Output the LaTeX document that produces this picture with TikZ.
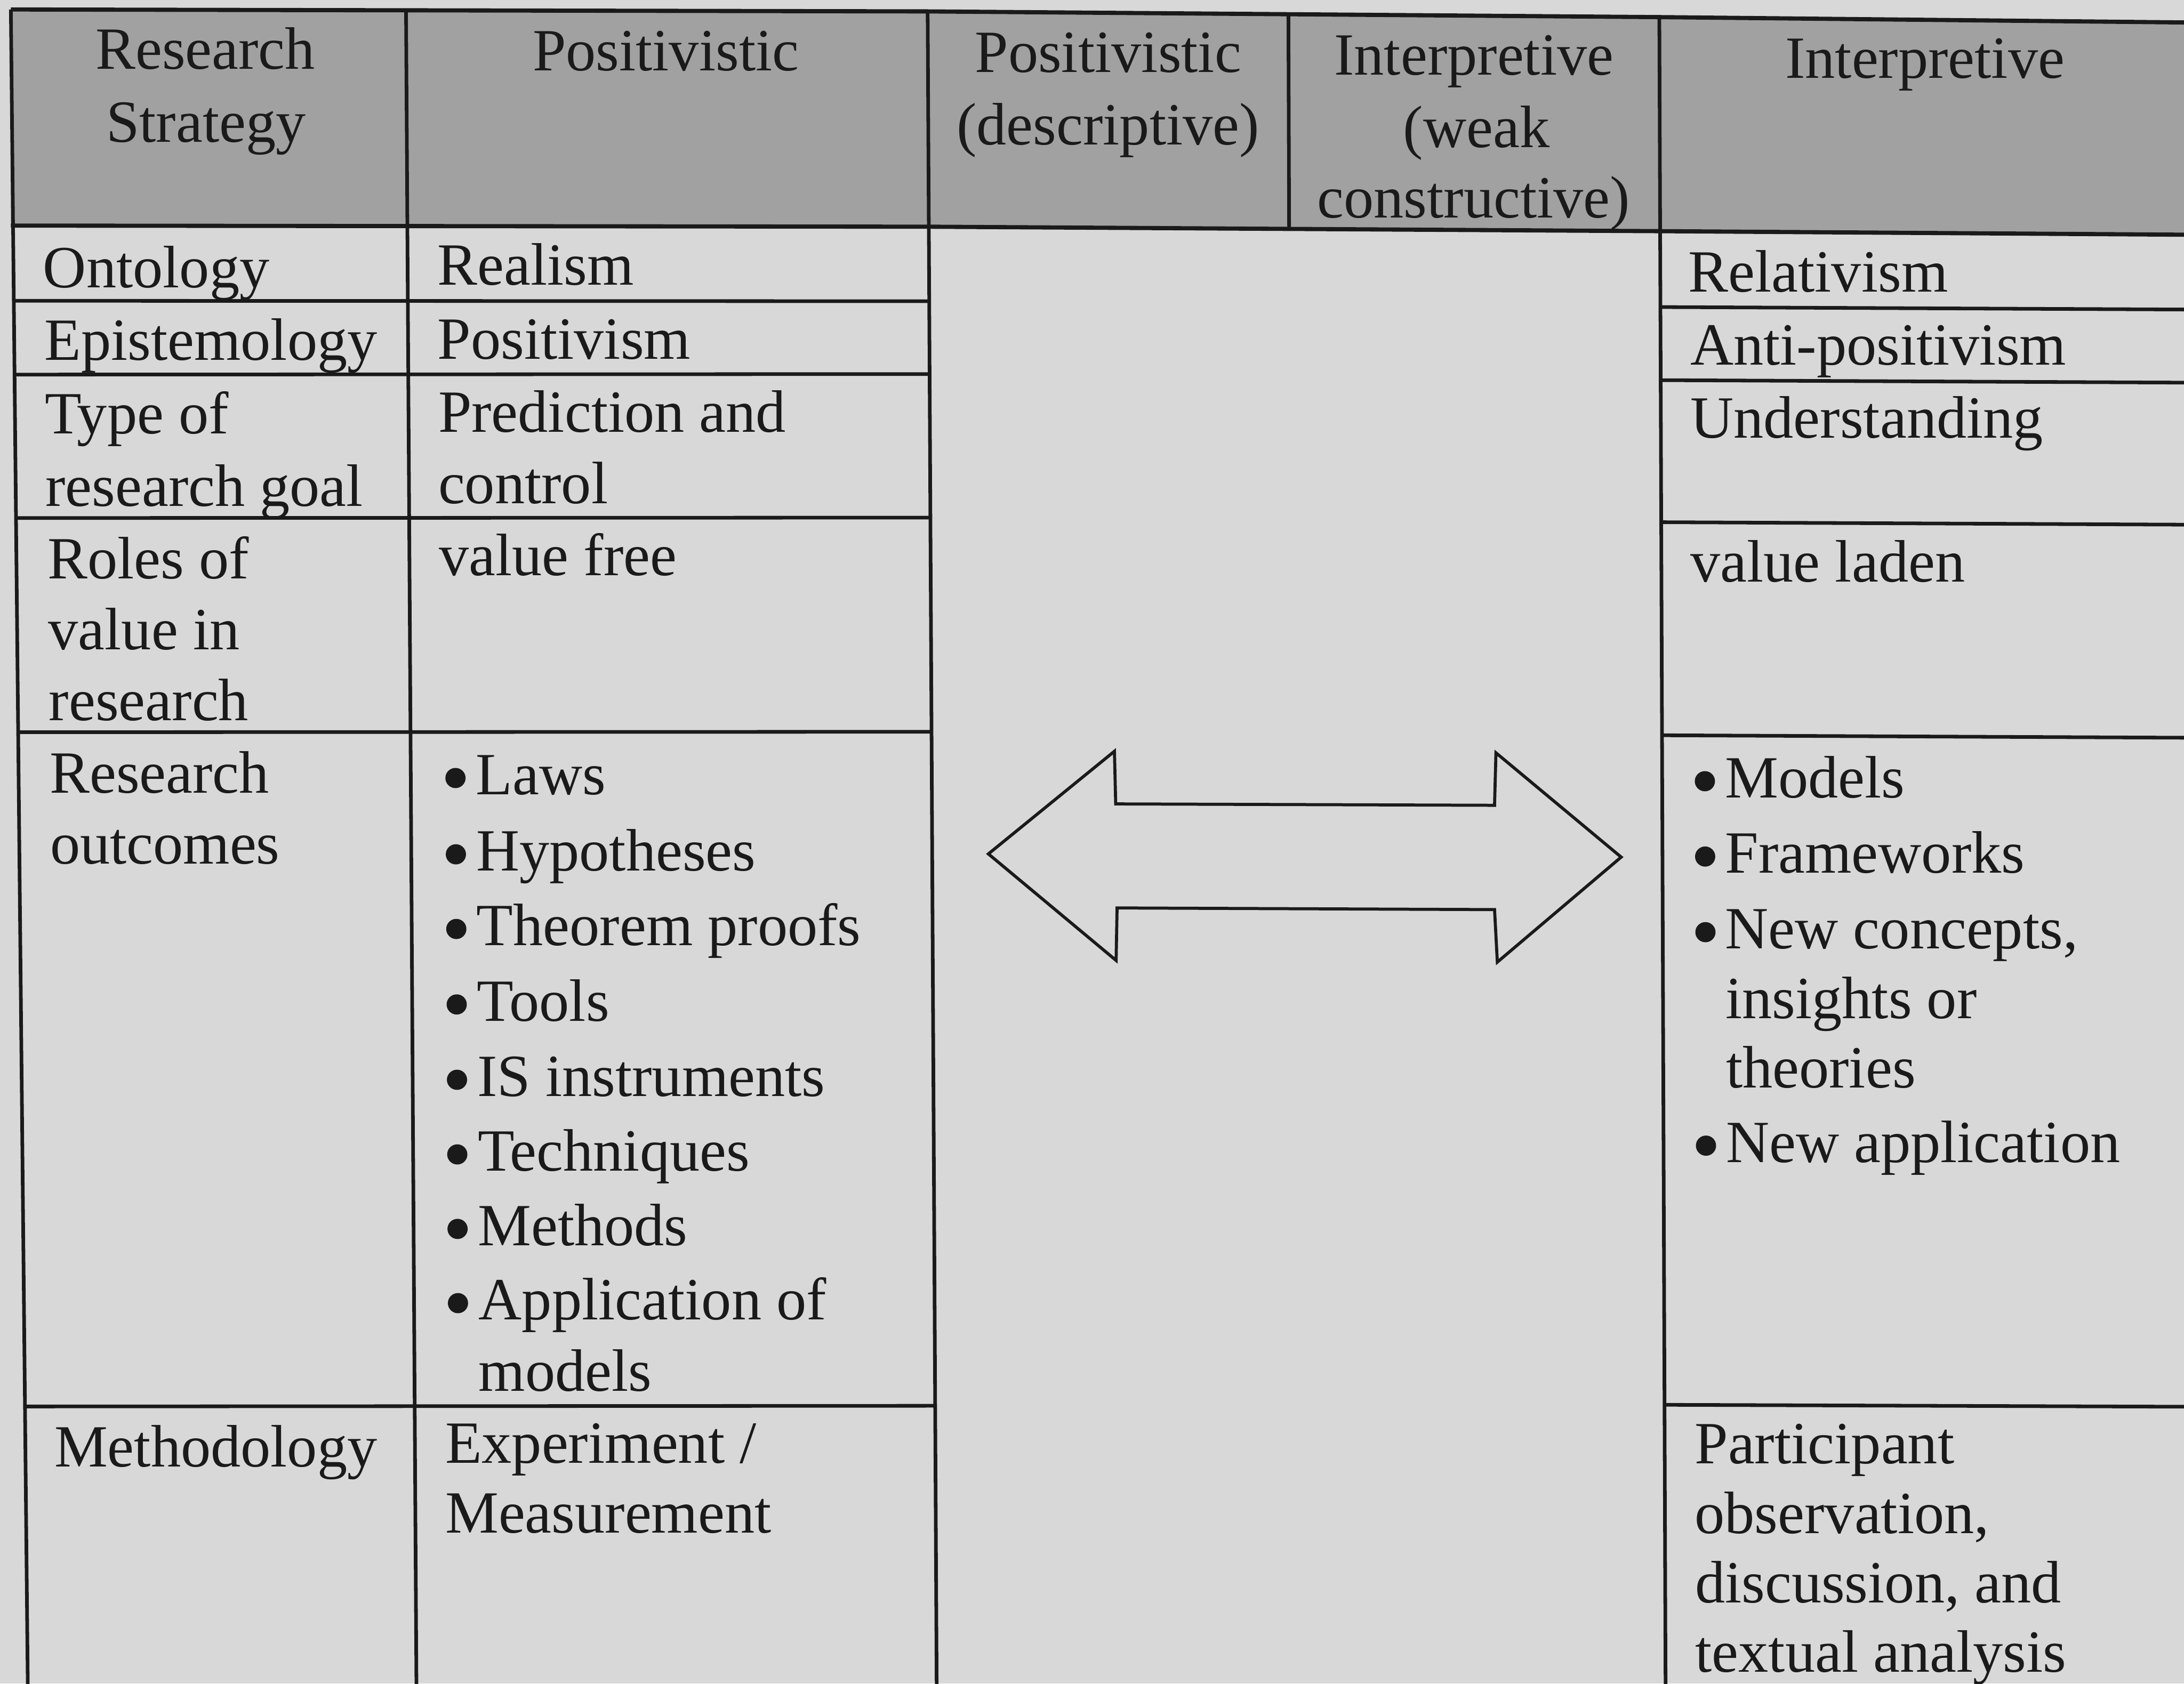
\documentclass[tikz,border=0pt]{standalone}
\usepackage{fontspec}
\setmainfont{Liberation Serif}
\definecolor{paper}{HTML}{D8D8D8}
\definecolor{headgrey}{HTML}{A1A1A1}
\definecolor{ink}{HTML}{1A1A1A}

\begin{document}
\begin{tikzpicture}[x=1pt,y=-1pt,
  rule/.style={draw=ink, line width=2.6pt},
  headrule/.style={draw=ink, line width=3pt},
  txt/.style={anchor=base west, inner sep=0pt, text=ink, font=\fontsize{43}{51}\selectfont},
  head/.style={anchor=base, inner sep=0pt, text=ink, font=\fontsize{43}{51}\selectfont},
  dot/.style={circle, fill=ink, inner sep=0pt, minimum size=14.5pt, yshift=1.5pt},
  twoway/.style={draw=ink, line width=2.2pt, fill=paper, line join=miter}
]
\useasboundingbox (0,0) rectangle (1568,1209);
\clip (0,0) rectangle (1568,1209);
\fill[paper] (0,0) rectangle (1568,1209);

% header band
\fill[headgrey] (7.8,6.8) -- (666,8.2) -- (1191,12.3) -- (1575,16.2)
  -- (1575,168.6) -- (1191,166) -- (666,162.8) -- (7.8,162) -- cycle;

% outer and header rules
\draw[headrule] (7.8,6.8) -- (666,8.2) -- (1191,12.3) -- (1575,16.2);
\draw[headrule] (7.8,162) -- (666,162.8) -- (1191,166) -- (1575,168.6);

% column rules
\draw[rule] (7.8,6.8) -- (20,1215);
\draw[rule] (291.5,7.5) -- (299,1215);
\draw[rule] (666,8.2) -- (672.5,1215);
\draw[rule] (925,10.3) -- (925.5,164.5);
\draw[rule] (1191.3,12.3) -- (1195.8,1215);

% row rules, left block
\draw[rule] (9.9,216) -- (667.1,216.3);
\draw[rule] (10.5,269) -- (667.4,268.6);
\draw[rule] (11.5,372) -- (668,371.7);
\draw[rule] (13.1,525.8) -- (668.8,525.5);
\draw[rule] (18,1010) -- (671.4,1009.5);

% row rules, right block
\draw[rule] (1192.1,220.5) -- (1575,222.3);
\draw[rule] (1192.3,273) -- (1575,274.8);
\draw[rule] (1192.6,375) -- (1575,376.8);
\draw[rule] (1193.2,528) -- (1575,529.8);
\draw[rule] (1195,1008.8) -- (1575,1010.2);

% header texts
\node[head] (hRS1) at (147.4,49.7) {Research};
\node[head] (hRS2) at (147.9,102.2) {Strategy};
\node[head] (hP) at (478,50.8) {Positivistic};
\node[head] (hPD1) at (795.6,52) {Positivistic};
\node[head] (hPD2) at (795.5,104) {(descriptive)};
\node[head] (hIW1) at (1058.2,53.7) {Interpretive};
\node[head] (hIW2) at (1060,105.7) {(weak};
\node[head] (hIW3) at (1058,156.5) {constructive)};
\node[head] (hI) at (1382,56) {Interpretive};

% row labels
\node[txt] (onto) at (30.8,206.6) {Ontology};
\node[txt] (epis) at (31.8,258.5) {Epistemology};
\node[txt] (goal1) at (32,311.6) {Type of};
\node[txt] (goal2) at (32.5,363.6) {research goal};
\node[txt] (role1) at (34,415.6) {Roles of};
\node[txt] (role2) at (34.5,466.5) {value in};
\node[txt] (role3) at (35,517.5) {research};
\node[txt] (outc1) at (35.5,569.5) {Research};
\node[txt] (outc2) at (35.8,620.5) {outcomes};
\node[txt] (meth) at (38.9,1053.4) {Methodology};

% positivistic column
\node[txt] (pOnto) at (314,204.5) {Realism};
\node[txt] (pEpis) at (314,258) {Positivism};
\node[txt] (pGoal1) at (314.5,310.3) {Prediction and};
\node[txt] (pGoal2) at (314.5,361.6) {control};
\node[txt] (pRole) at (315,413.3) {value free};
\node[dot] (pb1) at (327,560.2) {};
\node[txt] (pOut1) at (341.6,570.6) {Laws};
\node[dot] (pb2) at (327.3,615) {};
\node[txt] (pOut2) at (341.8,625.4) {Hypotheses};
\node[dot] (pb3) at (327.6,668.6) {};
\node[txt] (pOut3) at (342,679) {Theorem proofs};
\node[dot] (pb4) at (327.9,722.8) {};
\node[txt] (pOut4) at (342.3,733.2) {Tools};
\node[dot] (pb5) at (328.1,776.9) {};
\node[txt] (pOut5) at (342.5,787.3) {IS instruments};
\node[dot] (pb6) at (328.3,830.5) {};
\node[txt] (pOut6) at (342.8,840.9) {Techniques};
\node[dot] (pb7) at (328.5,884) {};
\node[txt] (pOut7) at (343,894.4) {Methods};
\node[dot] (pb8) at (328.8,937.3) {};
\node[txt] (pOut8) at (343.5,947.7) {Application of};
\node[txt] (pOut9) at (343.5,998.8) {models};
\node[txt] (pMeth1) at (319.5,1050.8) {Experiment /};
\node[txt] (pMeth2) at (319.5,1100.9) {Measurement};

% interpretive column
\node[txt] (iOnto) at (1212,209.6) {Relativism};
\node[txt] (iEpis) at (1213.3,262) {Anti-positivism};
\node[txt] (iGoal) at (1213.5,314.3) {Understanding};
\node[txt] (iRole) at (1213.5,417.8) {value laden};
\node[dot] (ib1) at (1224,562.5) {};
\node[txt] (iOut1) at (1238.3,572.9) {Models};
\node[dot] (ib2) at (1224.2,616.6) {};
\node[txt] (iOut2) at (1238.5,627) {Frameworks};
\node[dot] (ib3) at (1224.4,670.9) {};
\node[txt] (iOut3) at (1238.5,681.3) {New concepts,};
\node[txt] (iOut4) at (1238.7,731.2) {insights or};
\node[txt] (iOut5) at (1239,781) {theories};
\node[dot] (ib4) at (1224.8,824.2) {};
\node[txt] (iOut6) at (1239,834.6) {New application};
\node[txt] (iMeth1) at (1216.6,1051) {Participant};
\node[txt] (iMeth2) at (1216.6,1101) {observation,};
\node[txt] (iMeth3) at (1216.8,1150.9) {discussion, and};
\node[txt] (iMeth4) at (1217,1200.7) {textual analysis};

% two-headed block arrow across the middle columns
\draw[twoway] (709.6,613.2) -- (800.1,539.5) -- (801,577.3) -- (1073,578.3)
  -- (1074,540.6) -- (1163.9,615.5) -- (1075,690.9) -- (1073,653.2)
  -- (802,652) -- (801.3,689.7) -- cycle;
\end{tikzpicture}
\end{document}
